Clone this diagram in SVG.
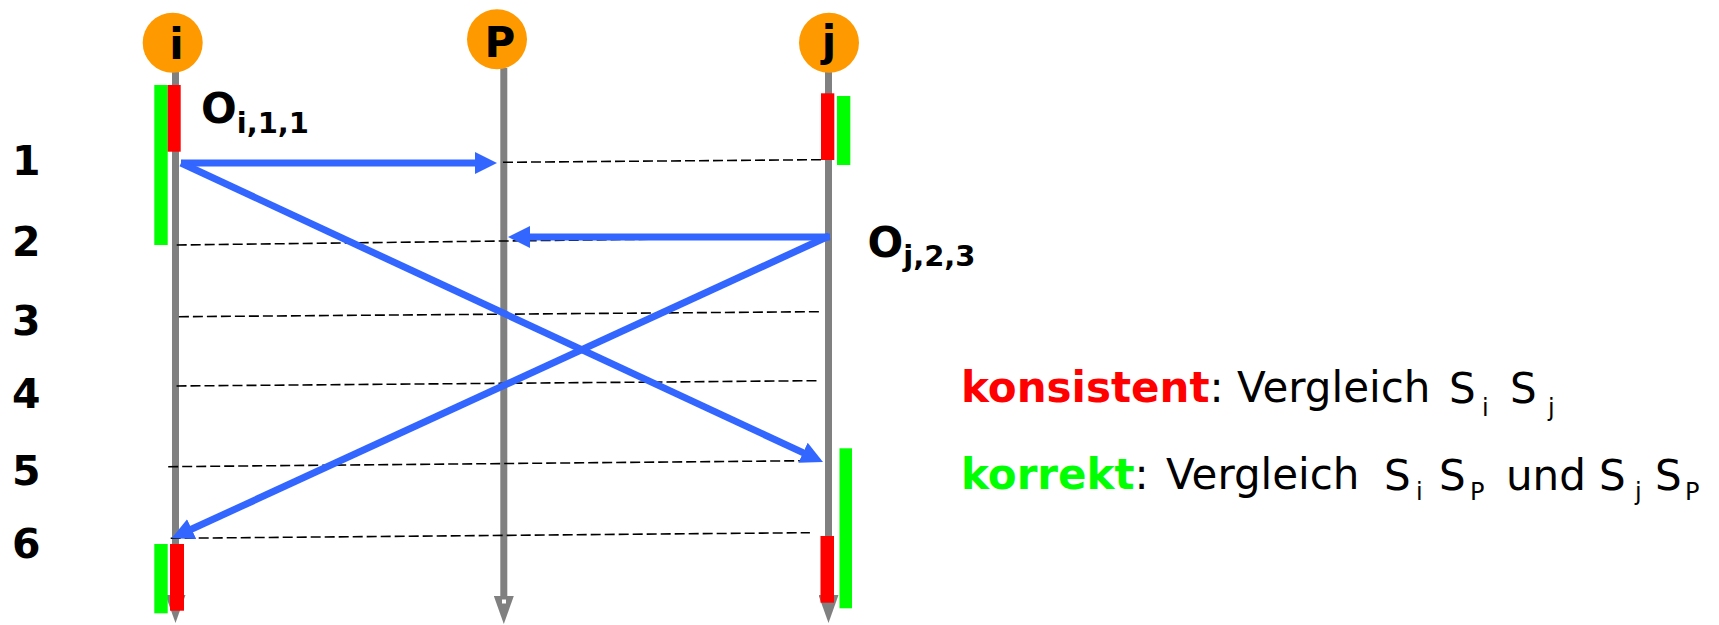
<svg xmlns="http://www.w3.org/2000/svg" width="1719" height="625" viewBox="0 0 1719 625">
  <style>
    .life{stroke:#808080;stroke-width:7;fill:none}
    .msg{stroke:#3366FF;stroke-width:7;fill:none}
    .sync{stroke:#000;stroke-width:1.6;stroke-dasharray:10 4;fill:none}
    .head{fill:#FF9900}
    .b{font-family:"DejaVu Sans",Verdana,sans-serif;font-weight:bold;fill:#000}
    .r{font-family:"DejaVu Sans",Verdana,sans-serif;fill:#000}
    .cons{fill:#FF0000}
    .corr{fill:#00FF00}
  </style>
  <defs>
    <marker id="lifeEnd" markerUnits="userSpaceOnUse" markerWidth="28" markerHeight="20" refX="14" refY="10" orient="auto">
      <path d="M0,0 L28,10 L0,20 z" fill="#808080"/>
    </marker>
    <marker id="msgEnd" markerUnits="userSpaceOnUse" markerWidth="22" markerHeight="22" refX="10" refY="11" orient="auto">
      <path d="M0,0 L22,11 L0,22 z" fill="#3366FF"/>
    </marker>
  </defs>
  <rect width="1719" height="625" fill="#fff"/>

  <!-- process i -->
  <g id="proc-i">
    <line class="life" x1="175.5" y1="72" x2="175.5" y2="609" marker-end="url(#lifeEnd)"/>
    <circle class="head" cx="172.7" cy="42.7" r="30"/>
    <text class="b" x="176.5" y="59" font-size="42" text-anchor="middle">i</text>
    <rect class="corr" x="154.3" y="85" width="13.4" height="160"/>
    <rect class="cons" x="167.7" y="85" width="13" height="66.7"/>
    <rect class="corr" x="154.3" y="544" width="13.4" height="69.3"/>
    <rect class="cons" x="170" y="544" width="14" height="66.7"/>
    <text class="b" x="201" y="123.3" font-size="42">O<tspan font-size="29" dy="10">i,1,1</tspan></text>
  </g>

  <!-- process P -->
  <g id="proc-P">
    <line class="life" x1="503.8" y1="68" x2="503.8" y2="610" marker-end="url(#lifeEnd)"/>
    <rect x="502" y="599.5" width="4" height="4" fill="#fff"/>
    <circle class="head" cx="497" cy="39.3" r="30"/>
    <text class="b" x="500" y="56.7" font-size="42" text-anchor="middle">P</text>
  </g>

  <!-- process j -->
  <g id="proc-j">
    <line class="life" x1="828.5" y1="72" x2="828.5" y2="609" marker-end="url(#lifeEnd)"/>
    <circle class="head" cx="829" cy="42.7" r="30"/>
    <text class="b" x="829" y="56" font-size="42" text-anchor="middle">j</text>
    <rect class="cons" x="821" y="93.3" width="13.3" height="66.7"/>
    <rect class="corr" x="837" y="96" width="13.3" height="69"/>
    <rect class="corr" x="839.5" y="448.3" width="12.5" height="160"/>
    <rect class="cons" x="820.5" y="536" width="13.5" height="66.7"/>
    <text class="b" x="867.5" y="256.7" font-size="42">O<tspan font-size="29" dy="9">j,2,3</tspan></text>
  </g>

  <!-- time steps -->
  <g id="steps" class="b" font-size="41">
    <text x="12" y="175">1</text>
    <text x="12" y="256">2</text>
    <text x="12" y="335">3</text>
    <text x="12" y="408">4</text>
    <text x="12" y="485">5</text>
    <text x="12" y="558">6</text>
  </g>

  <!-- legend -->
  <g id="legend" font-size="42">
    <text class="r" x="961" y="402"><tspan class="b cons">konsistent</tspan>: Vergleich</text>
    <text class="r" x="1449" y="403">S</text>
    <text class="r" x="1482" y="416" font-size="24">i</text>
    <text class="r" x="1510" y="403">S</text>
    <text class="r" x="1548" y="416" font-size="24">j</text>

    <text class="r" x="961" y="489"><tspan class="b corr">korrekt</tspan>:<tspan dx="4"> Vergleich</tspan></text>
    <text class="r" x="1384" y="490">S</text>
    <text class="r" x="1416" y="500" font-size="24">i</text>
    <text class="r" x="1439" y="490">S</text>
    <text class="r" x="1470" y="500" font-size="24">P</text>
    <text class="r" x="1506" y="490">und</text>
    <text class="r" x="1599" y="490">S</text>
    <text class="r" x="1635" y="500" font-size="24">j</text>
    <text class="r" x="1655" y="490">S</text>
    <text class="r" x="1685" y="500" font-size="24">P</text>
  </g>

  <!-- messages and consistent cut lines -->
  <g id="connectors">
    <line class="sync" x1="503" y1="162.3" x2="821" y2="159.7"/>
    <line class="sync" x1="176.7" y1="245" x2="830" y2="237"/>
    <line class="sync" x1="178.9" y1="316.7" x2="819.6" y2="311.7"/>
    <line class="sync" x1="176.5" y1="386" x2="817.2" y2="380.7"/>
    <line class="sync" x1="168.2" y1="466.7" x2="807.5" y2="460.7"/>
    <line class="sync" x1="170.7" y1="538.3" x2="809.9" y2="532.7"/>

    <line class="msg" x1="181" y1="163" x2="485" y2="163" marker-end="url(#msgEnd)"/>
    <line class="msg" x1="830" y1="237" x2="520" y2="237" marker-end="url(#msgEnd)"/>
    <line class="msg" x1="181" y1="163" x2="812.1" y2="456.9" marker-end="url(#msgEnd)"/>
    <line class="msg" x1="829" y1="236" x2="182.6" y2="533.3" marker-end="url(#msgEnd)"/>
  </g>
</svg>
